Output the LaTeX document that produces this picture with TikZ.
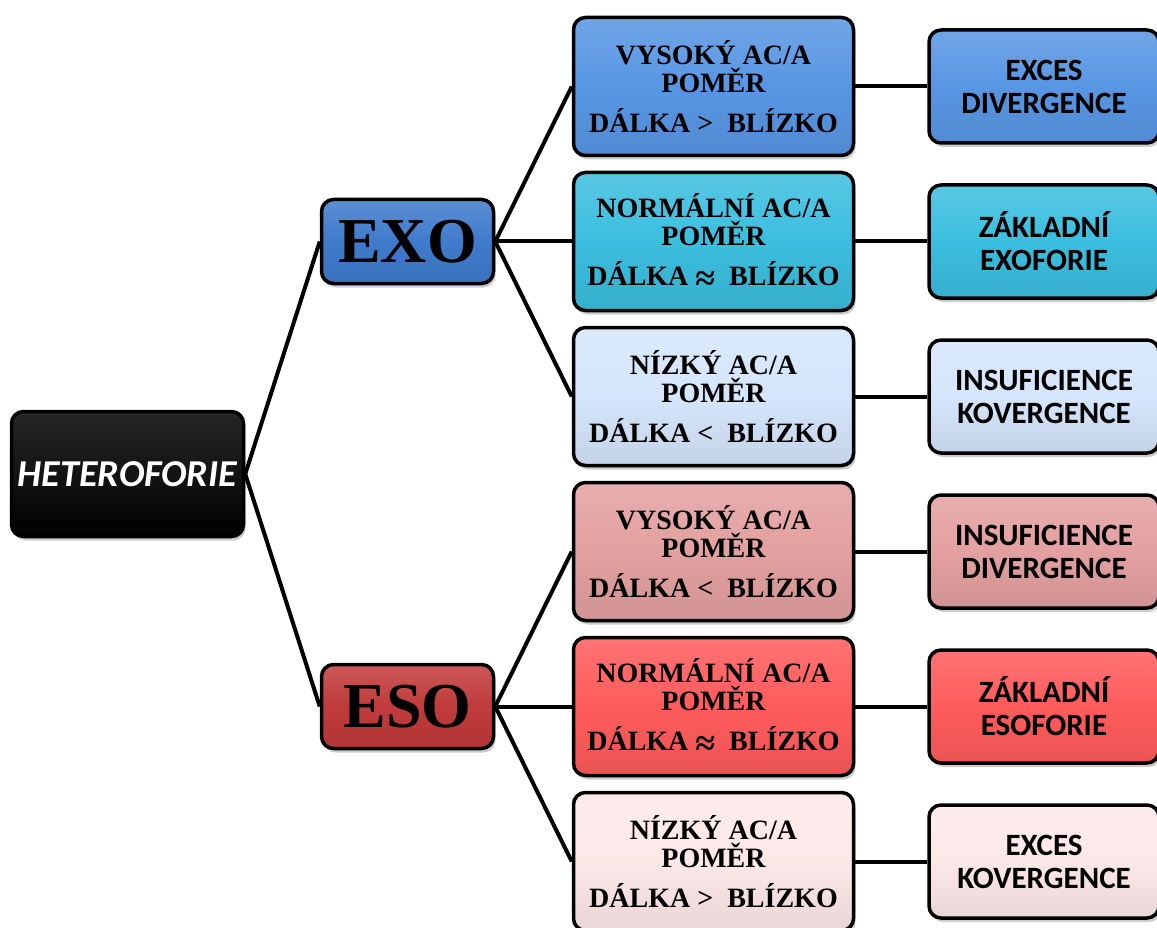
\documentclass[tikz,border=0pt]{standalone}
\usepackage{fontspec}
\setmainfont{Liberation Serif}
\newfontfamily\carlito{Carlito}
\usepackage{tikz}
\usetikzlibrary{shadows,trees}

\definecolor{exoc}{HTML}{3F7BCC}
\definecolor{esoc}{HTML}{C13B3B}
\definecolor{blueA}{HTML}{5896E3}
\definecolor{blueB}{HTML}{3BBEDF}
\definecolor{blueC}{HTML}{D5E5FB}
\definecolor{redA}{HTML}{E3A0A0}
\definecolor{redB}{HTML}{FF5B5B}
\definecolor{redC}{HTML}{FDE8E8}
\newcommand{\priblizne}{\raisebox{-5pt}{\fontsize{36}{28}\selectfont ≈}}

\begin{document}
\begin{tikzpicture}[
    x=1pt, y=1pt,
    grow'=right,
    box/.style={
        rectangle,
        rounded corners=12pt,
        draw=black,
        line width=3.5pt,
        drop shadow={shadow xshift=2pt, shadow yshift=-4pt, opacity=0.4}
    },
    tint/.style={
        top color=#1!85!white,
        bottom color=#1!92!black,
        middle color=#1
    },
    root/.style={
        box,
        top color=black!85,
        bottom color=black,
        minimum width=232pt,
        minimum height=125pt,
        text=white,
        font=\carlito\bfseries\itshape\fontsize{38}{38}\selectfont
    },
    kind/.style={
        box,
        minimum width=172pt,
        minimum height=84pt,
        font=\bfseries\fontsize{64}{64}\selectfont
    },
    ratio/.style={
        box,
        minimum width=280pt,
        minimum height=138pt,
        align=center,
        font=\bfseries\fontsize{28}{28}\selectfont
    },
    result/.style={
        box,
        minimum width=230pt,
        minimum height=113pt,
        align=center,
        font=\carlito\bfseries\fontsize{31}{33}\selectfont
    },
    level 1/.style={level distance=280pt, sibling distance=465pt},
    level 2/.style={level distance=306pt, sibling distance=155pt},
    level 3/.style={level distance=330.5pt},
    edge from parent/.style={draw=black, line width=4pt},
    edge from parent path={(\tikzparentnode.east) -- (\tikzchildnode.west)}
]
\useasboundingbox (0,0) rectangle (1157,-928);
% --- strom ---
% koren
\node[root] (hetero) at (127.5,-474) {HETEROFORIE}
    % exoforie
    child {
        node[kind, tint=exoc] (exo) {EXO}
        child {
            node[ratio, tint=blueA] (exoA) {VYSOK\'Y AC/A\\POM\v{E}R\\[12pt]D\'ALKA >~ BL\'IZKO}
            child { node[result, tint=blueA] (exoAr) {EXCES\\DIVERGENCE} }
        }
        child {
            node[ratio, tint=blueB] (exoB) {NORM\'ALN\'I AC/A\\POM\v{E}R\\[12pt]D\'ALKA\ \priblizne\ \ BL\'IZKO}
            child { node[result, tint=blueB] (exoBr) {Z\'AKLADN\'I\\EXOFORIE} }
        }
        child {
            node[ratio, tint=blueC] (exoC) {N\'IZK\'Y AC/A\\POM\v{E}R\\[12pt]D\'ALKA <~ BL\'IZKO}
            child { node[result, tint=blueC] (exoCr) {INSUFICIENCE\\KOVERGENCE} }
        }
    }
    % esoforie
    child {
        node[kind, tint=esoc] (eso) {ESO}
        child {
            node[ratio, tint=redA] (esoA) {VYSOK\'Y AC/A\\POM\v{E}R\\[12pt]D\'ALKA <~ BL\'IZKO}
            child { node[result, tint=redA] (esoAr) {INSUFICIENCE\\DIVERGENCE} }
        }
        child {
            node[ratio, tint=redB] (esoB) {NORM\'ALN\'I AC/A\\POM\v{E}R\\[12pt]D\'ALKA\ \priblizne\ \ BL\'IZKO}
            child { node[result, tint=redB] (esoBr) {Z\'AKLADN\'I\\ESOFORIE} }
        }
        child {
            node[ratio, tint=redC] (esoC) {N\'IZK\'Y AC/A\\POM\v{E}R\\[12pt]D\'ALKA >~ BL\'IZKO}
            child { node[result, tint=redC] (esoCr) {EXCES\\KOVERGENCE} }
        }
    };
\end{tikzpicture}
\end{document}
